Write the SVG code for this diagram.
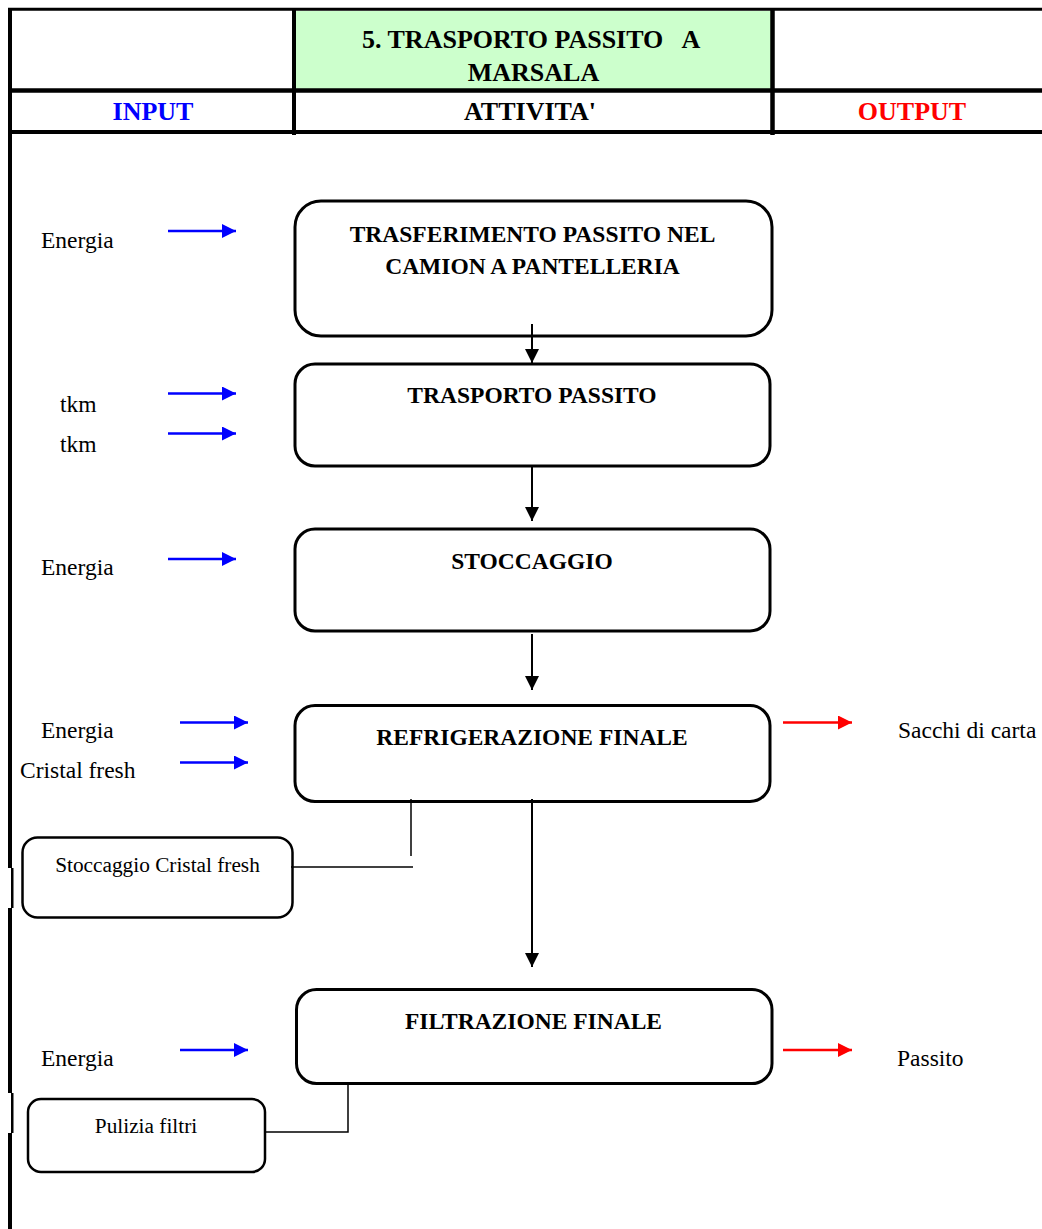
<svg xmlns="http://www.w3.org/2000/svg" width="1042" height="1229" viewBox="0 0 1042 1229">
  <style>
    text { font-family: 'Liberation Serif', Tinos, 'Times New Roman', 'DejaVu Serif', serif; }
    .frame { fill: none; stroke: #000; }
    .box { fill: #fff; stroke: #000; stroke-width: 3; }
    .side { fill: #fff; stroke: #000; stroke-width: 2.5; }
    .hd { font-weight: bold; font-size: 26px; }
    .bt { font-weight: bold; font-size: 23.5px; fill: #000; text-anchor: middle; }
    .lb { font-size: 23.5px; fill: #000; }
    .sl { font-size: 21.3px; fill: #000; text-anchor: middle; }
    .flow { stroke: #000; stroke-width: 2; fill: none; }
    .link { stroke: #000; stroke-width: 1.5; fill: none; }
    .in { stroke: #0000ff; stroke-width: 2.3; fill: none; }
    .out { stroke: #ff0000; stroke-width: 2.3; fill: none; }
  </style>
  <defs>
    <marker id="arrBlack" markerUnits="userSpaceOnUse" markerWidth="16" markerHeight="16" refX="14" refY="7" orient="auto">
      <path d="M0,0 L14,7 L0,14 Z" fill="#000"/>
    </marker>
    <marker id="arrBlue" markerUnits="userSpaceOnUse" markerWidth="16" markerHeight="16" refX="14" refY="7" orient="auto">
      <path d="M0,0 L14,7 L0,14 Z" fill="#0000ff"/>
    </marker>
    <marker id="arrRed" markerUnits="userSpaceOnUse" markerWidth="16" markerHeight="16" refX="14" refY="7" orient="auto">
      <path d="M0,0 L14,7 L0,14 Z" fill="#ff0000"/>
    </marker>
  </defs>

  <rect width="1042" height="1229" fill="#fff"/>

  <!-- header table -->
  <g id="header">
    <rect x="296" y="11" width="475" height="78" fill="#ccffcc"/>
    <line class="frame" x1="8" y1="9.3" x2="1042" y2="9.3" stroke-width="3"/>
    <line class="frame" x1="8" y1="90.5" x2="1042" y2="90.5" stroke-width="4.5"/>
    <line class="frame" x1="8" y1="132" x2="1042" y2="132" stroke-width="4"/>
    <line class="frame" x1="294" y1="8" x2="294" y2="135" stroke-width="4"/>
    <line class="frame" x1="772.5" y1="8" x2="772.5" y2="135" stroke-width="4.5"/>
    <text class="hd" x="362" y="48" xml:space="preserve" fill="#000">5. TRASPORTO PASSITO   A</text>
    <text class="hd" x="533.5" y="81" text-anchor="middle" fill="#000">MARSALA</text>
    <text class="hd" x="153" y="120" text-anchor="middle" fill="#0000ff">INPUT</text>
    <text class="hd" x="530" y="120" text-anchor="middle" fill="#000">ATTIVITA'</text>
    <text class="hd" x="912" y="120" text-anchor="middle" fill="#ff0000">OUTPUT</text>
  </g>

  <!-- left border of the sheet -->
  <g id="border">
    <rect x="8" y="8" width="4" height="1221" fill="#000"/>
    <rect x="7.5" y="868" width="3.5" height="40" fill="#fff"/>
    <rect x="11" y="868" width="2.5" height="40" fill="#000"/>
    <rect x="7.5" y="1093" width="3.5" height="40" fill="#fff"/>
    <rect x="11" y="1093" width="2.5" height="40" fill="#000"/>
  </g>

  <!-- process steps -->
  <g id="step-trasferimento">
    <rect class="box" x="295" y="201" width="477" height="135" rx="26"/>
    <text class="bt" x="532.5" y="242">TRASFERIMENTO PASSITO NEL</text>
    <text class="bt" x="532.5" y="274">CAMION A PANTELLERIA</text>
  </g>
  <g id="step-trasporto">
    <rect class="box" x="295" y="364" width="475" height="102" rx="20"/>
    <text class="bt" x="532" y="403">TRASPORTO PASSITO</text>
  </g>
  <g id="step-stoccaggio">
    <rect class="box" x="295" y="529" width="475" height="102" rx="20"/>
    <text class="bt" x="532" y="569">STOCCAGGIO</text>
  </g>
  <g id="step-refrigerazione">
    <rect class="box" x="295" y="705.5" width="475" height="96" rx="20"/>
    <text class="bt" x="532" y="745">REFRIGERAZIONE FINALE</text>
  </g>
  <g id="step-filtrazione">
    <rect class="box" x="296.5" y="989.5" width="475.5" height="94" rx="20"/>
    <text class="bt" x="533.5" y="1029">FILTRAZIONE FINALE</text>
  </g>

  <!-- side activities -->
  <g id="side-stoccaggio-cristal">
    <rect class="side" x="22.5" y="837.5" width="270" height="80" rx="15"/>
    <text class="sl" x="157.5" y="872">Stoccaggio Cristal fresh</text>
  </g>
  <g id="side-pulizia">
    <rect class="side" x="28" y="1099" width="237" height="73" rx="13"/>
    <text class="sl" x="146" y="1133">Pulizia filtri</text>
  </g>

  <!-- connectors, drawn over the boxes so the stubs inside them show -->
  <g id="connectors">
    <line class="flow" x1="532" y1="324" x2="532" y2="363" marker-end="url(#arrBlack)"/>
    <line class="flow" x1="532" y1="466" x2="532" y2="521" marker-end="url(#arrBlack)"/>
    <line class="flow" x1="532" y1="634" x2="532" y2="690" marker-end="url(#arrBlack)"/>
    <line class="flow" x1="532" y1="799" x2="532" y2="967" marker-end="url(#arrBlack)"/>
    <polyline class="link" points="411,799 411,856"/>
    <polyline class="link" points="291,867 413,867"/>
    <polyline class="link" points="348,1084 348,1132 265,1132"/>

    <line class="in" x1="168" y1="231" x2="236" y2="231" marker-end="url(#arrBlue)"/>
    <line class="in" x1="168" y1="393.5" x2="236" y2="393.5" marker-end="url(#arrBlue)"/>
    <line class="in" x1="168" y1="433.5" x2="236" y2="433.5" marker-end="url(#arrBlue)"/>
    <line class="in" x1="168" y1="559" x2="236" y2="559" marker-end="url(#arrBlue)"/>
    <line class="in" x1="180" y1="722.5" x2="248" y2="722.5" marker-end="url(#arrBlue)"/>
    <line class="in" x1="180" y1="762.5" x2="248" y2="762.5" marker-end="url(#arrBlue)"/>
    <line class="in" x1="180" y1="1050" x2="248" y2="1050" marker-end="url(#arrBlue)"/>

    <line class="out" x1="783" y1="722.5" x2="852" y2="722.5" marker-end="url(#arrRed)"/>
    <line class="out" x1="783" y1="1050" x2="852" y2="1050" marker-end="url(#arrRed)"/>
  </g>

  <!-- inputs -->
  <g id="inputs">
    <text class="lb" x="41" y="248">Energia</text>
    <text class="lb" x="60" y="411.5">tkm</text>
    <text class="lb" x="60" y="451.5">tkm</text>
    <text class="lb" x="41" y="575">Energia</text>
    <text class="lb" x="41" y="738">Energia</text>
    <text class="lb" x="20" y="778">Cristal fresh</text>
    <text class="lb" x="41" y="1066">Energia</text>
  </g>

  <!-- outputs -->
  <g id="outputs">
    <text class="lb" x="898" y="738">Sacchi di carta</text>
    <text class="lb" x="897" y="1066">Passito</text>
  </g>
</svg>
